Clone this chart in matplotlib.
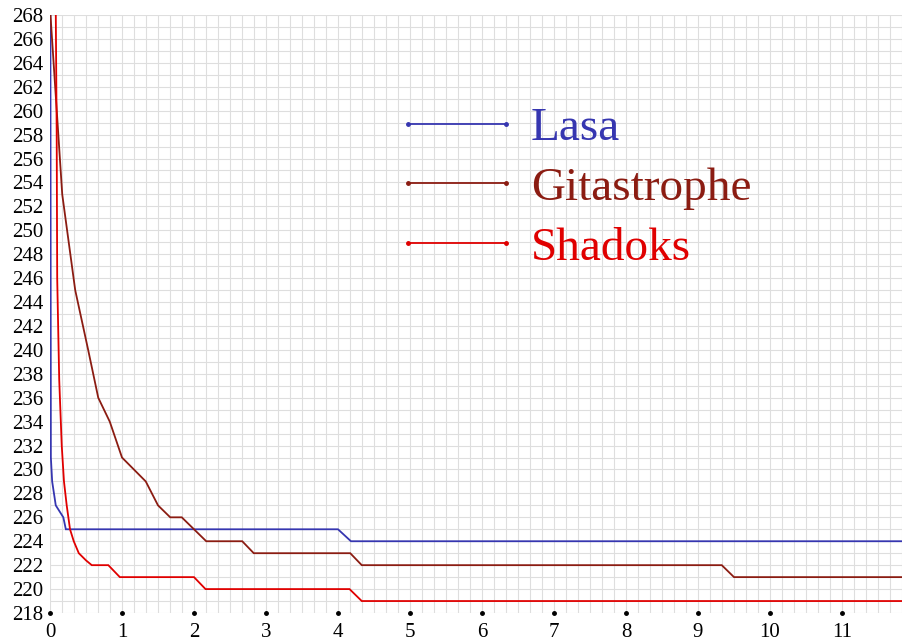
import matplotlib
matplotlib.use("Agg")
import matplotlib.pyplot as plt
from matplotlib.lines import Line2D
from matplotlib.ticker import MultipleLocator
import numpy as np

plt.rcParams['font.family'] = ['Liberation Serif', 'DejaVu Serif']

names = ["Lasa", "Gitastrophe", "Shadoks"]
colors = ["#3636b0", "#8b1c12", "#e00000"]

lasa_x = [0.0, 0.012, 0.03, 0.08, 0.185, 0.22, 4.0, 4.18, 11.84]
lasa_y = [300, 231, 229, 227, 226, 225, 225, 224, 224]

gita_x = [0.0, 0.17, 0.35, 0.53, 0.67, 0.83, 1.0, 1.33, 1.5, 1.67, 1.83, 2.17,
          2.67, 2.83, 4.17, 4.33, 9.33, 9.5, 11.84]
gita_y = [268.6, 253, 245, 240, 236, 234, 231, 229, 227, 226, 226, 224,
          224, 223, 223, 222, 222, 221, 221]

shad_x = [0.078, 0.093, 0.10, 0.128, 0.163, 0.194, 0.232, 0.278, 0.33, 0.40,
          0.5, 0.58, 0.81, 0.97, 2.0, 2.16, 4.16, 4.33, 11.84]
shad_y = [270, 258, 246, 237.5, 232, 229, 227, 225, 224, 223,
          222.4, 222, 222, 221, 221, 220, 220, 219, 219]

x_ticks = list(range(0, 12))
y_ticks = list(range(218, 269, 2))

fig = plt.figure(figsize=(9.02, 6.43), dpi=100)
ax = fig.add_axes([50/902, 1 - 613/643, 852/902, 598/643])

for xs, ys, c in zip([lasa_x, gita_x, shad_x], [lasa_y, gita_y, shad_y], colors):
    ax.plot(xs, ys, color=c, lw=1.3, solid_joinstyle='miter')

ax.set_xlim(0, 71/6)
ax.set_ylim(218, 268)
ax.set_xticks(x_ticks)
ax.set_yticks(y_ticks)
ax.xaxis.set_minor_locator(MultipleLocator(1/6))
ax.yaxis.set_minor_locator(MultipleLocator(1))
ax.grid(which='both', color='#dedede', lw=0.8)
ax.set_axisbelow(True)
for s in ax.spines.values():
    s.set_visible(False)
ax.tick_params(which='both', length=0, labelsize=15, colors='black')
ax.tick_params(axis='y', pad=5)
ax.tick_params(axis='x', pad=7)

ax.plot(x_ticks, [218] * len(x_ticks), 'o', color='black', ms=2.5, clip_on=False, zorder=5)

handles = [Line2D([0], [0], color=c, lw=1.3, marker='o', ms=2.5) for c in colors]
leg = ax.legend(handles, names, loc='upper left', bbox_to_anchor=(0.404, 0.846),
                frameon=False, fontsize=34, numpoints=2, handlelength=2.66,
                handletextpad=0.23, labelspacing=0.355, labelcolor='linecolor',
                borderaxespad=0, borderpad=0)

fig.savefig("out.png", dpi=100)
